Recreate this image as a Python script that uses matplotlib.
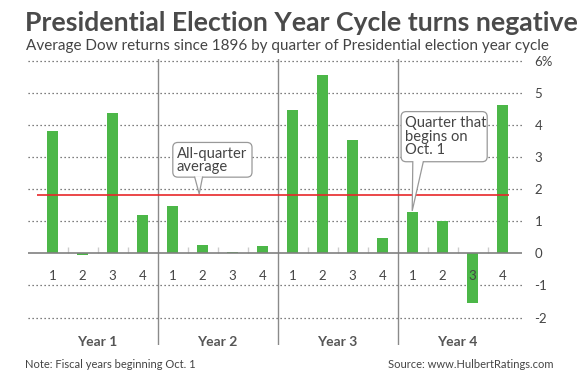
import numpy as np
import matplotlib
matplotlib.use('Agg')
import matplotlib.pyplot as plt
from matplotlib.patches import Polygon, FancyBboxPatch

plt.rcParams['font.family'] = ['Lato', 'DejaVu Sans']

years = ['Year 1', 'Year 2', 'Year 3', 'Year 4']
quarters = ['1', '2', '3', '4']
# average Dow return (%) per quarter, year 1 Q1 ... year 4 Q4
returns = [3.80, -0.05, 4.38, 1.19,
           1.47, 0.26, 0.05, 0.23,
           4.46, 5.54, 3.53, 0.48,
           1.30, 1.02, -1.55, 4.62]
all_quarter_avg = 1.83
yticks = [-2, -1, 0, 1, 2, 3, 4, 5, 6]
ytick_labels = ['-2', '-1', '0', '1', '2', '3', '4', '5', '6%']

green = '#4cb748'
text_col = '#444444'

fig = plt.figure(figsize=(5.78, 3.76), dpi=100)
ax = fig.add_axes([28/578, 31.1/376, 494/578, 286/376])

x = np.arange(len(returns))
ax.bar(x, returns, width=0.39, color=green, zorder=3)

ax.set_xlim(-0.817, 15.65)
ax.set_ylim(-2.85, 6.05)

# dotted grid (zero line drawn solid)
for v in yticks:
    if v == 0:
        ax.axhline(0, color='#808080', lw=1.2, zorder=4)
    else:
        ax.axhline(v, color='#555555', lw=0.9, ls=(0, (1, 2.2)), zorder=1)

# year separators
for k in range(1, len(years)):
    ax.axvline(4*k - 0.5, color='#8a8a8a', lw=1.0, zorder=2)

# small ticks between quarters
for i in range(len(returns) - 1):
    if (i + 1) % 4:
        ax.vlines(i + 0.5, 0, 0.2, color='#cccccc', lw=1.0, zorder=2)

# quarter and year labels
for i in x:
    ax.text(i, -0.7, quarters[i % 4], ha='center', va='center',
            fontsize=9.5, color=text_col)
for k, name in enumerate(years):
    ax.text(4*k + 1.5, -2.75, name, ha='center', va='center',
            fontsize=10, fontweight='bold', color='#555555')

# all-quarter average line
ax.hlines(all_quarter_avg, -0.53, 15.2, color='#e8272a', lw=1.2, zorder=5)

ax.set_yticks(yticks)
ax.set_yticklabels(ytick_labels)
ax.yaxis.tick_right()
ax.tick_params(axis='y', length=0, pad=9, labelsize=9.5, labelcolor=text_col)
ax.set_xticks([])
for s in ax.spines.values():
    s.set_visible(False)


def callout(x0, x1, y0, y1, label, tip, base):
    box = FancyBboxPatch((x0, y0), x1 - x0, y1 - y0,
                         boxstyle='round,pad=0,rounding_size=0.17',
                         mutation_aspect=0.93, fc='white', ec='#999999',
                         lw=0.9, zorder=8)
    ax.add_patch(box)
    ax.text(x0 + 0.13, y1 - 0.13, label, ha='left', va='top', fontsize=10.6,
            color=text_col, linespacing=0.98, zorder=11)
    b0x, b1x = base
    ax.add_patch(Polygon([(b0x, y0 + 0.03), tip, (b1x, y0 + 0.03)],
                         closed=True, fc='white', ec='none', zorder=9))
    ax.plot([b0x, tip[0], b1x], [y0, tip[1], y0], color='#999999',
            lw=0.9, zorder=10, solid_joinstyle='miter')


# "All-quarter average" box
callout(4.01, 6.65, 2.37, 3.45, 'All-quarter\naverage',
        (4.89, all_quarter_avg + 0.02), (4.74, 5.0))
# "Quarter that begins on Oct. 1" box
callout(11.62, 14.49, 2.85, 4.41, 'Quarter that\nbegins on\nOct. 1',
        (11.99, returns[12] + 0.02), (12.01, 12.36))

fig.text(25/578, 1 - 31/376, 'Presidential Election Year Cycle turns negative',
         fontsize=19.2, fontweight='bold', color='#4a4a4a', va='baseline')
fig.text(26/578, 1 - 50/376,
         'Average Dow returns since 1896 by quarter of Presidential election year cycle',
         fontsize=11, color='#444444', va='baseline')
fig.text(25/578, 1 - 368/376, 'Note: Fiscal years beginning Oct. 1',
         fontsize=8, color='#444444', va='baseline')
fig.text(553/578, 1 - 368/376, 'Source: www.HulbertRatings.com',
         fontsize=8, color='#444444', va='baseline', ha='right')

fig.savefig('out.png', dpi=100)
